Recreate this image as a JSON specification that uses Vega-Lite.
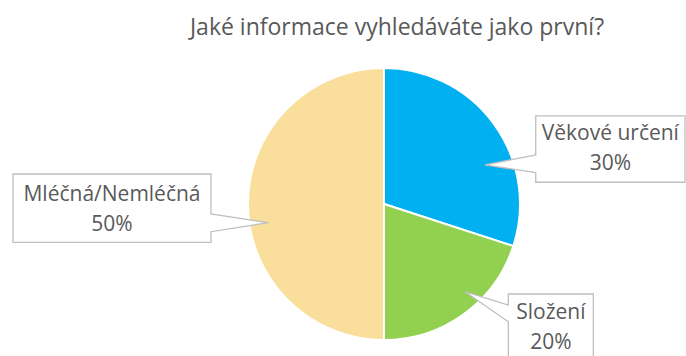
{
  "$schema": "https://vega.github.io/schema/vega-lite/v6.json",
  "autosize": {"type": "none"},
  "width": 604,
  "height": 304,
  "padding": {"left": 82, "top": 52, "right": 0, "bottom": 0},
  "background": "white",
  "title": {
    "text": "Jaké informace vyhledáváte jako první?",
    "font": "Open Sans",
    "fontSize": 23,
    "fontWeight": "normal",
    "color": "#595959",
    "anchor": "middle",
    "dx": 13,
    "dy": 23,
    "offset": 17,
    "baseline": "alphabetic"
  },
  "config": {"view": {"stroke": null}},
  "data": {
    "values": [
      {"kategorie": "Věkové určení", "hodnota": 30},
      {"kategorie": "Složení", "hodnota": 20},
      {"kategorie": "Mléčná/Nemléčná", "hodnota": 50}
    ]
  },
  "transform": [
    {"window": [{"op": "row_number", "as": "poradi"}]},
    {"joinaggregate": [{"op": "sum", "field": "hodnota", "as": "celkem"}]},
    {"window": [{"op": "sum", "field": "hodnota", "as": "kumulace"}], "sort": [{"field": "poradi"}], "frame": [null, 0]},
    {"calculate": "(datum.kumulace - datum.hodnota / 2) / datum.celkem * 2 * PI", "as": "uhel"},
    {"calculate": "0.9 * sin(datum.uhel)", "as": "ax"},
    {"calculate": "0.9 * cos(datum.uhel)", "as": "ay"},
    {"calculate": "datum.kategorie + '\\n' + datum.hodnota + '%'", "as": "popisek"}
  ],
  "layer": [
    {
      "mark": {"type": "arc", "outerRadius": 136, "stroke": "white", "strokeWidth": 2},
      "encoding": {
        "theta": {"field": "hodnota", "type": "quantitative", "stack": true},
        "order": {"field": "poradi", "type": "quantitative"},
        "color": {
          "field": "kategorie",
          "type": "nominal",
          "scale": {
            "domain": ["Věkové určení", "Složení", "Mléčná/Nemléčná"],
            "range": ["#00B0F0", "#92D050", "#F9DF9B"]
          },
          "legend": null
        }
      }
    },
    {
      "mark": {"type": "point", "filled": true, "fill": "white", "stroke": "#BFBFBF", "strokeWidth": 1.3, "opacity": 1, "fillOpacity": 1, "size": 4},
      "encoding": {
        "x": {"field": "ax", "type": "quantitative", "scale": {"domain": [-2.220588, 2.220588], "nice": false, "zero": false}, "axis": null},
        "y": {"field": "ay", "type": "quantitative", "scale": {"domain": [-1.117647, 1.117647], "nice": false, "zero": false}, "axis": null},
        "shape": {
          "field": "kategorie",
          "type": "nominal",
          "scale": {
            "domain": ["Věkové určení", "Složení", "Mléčná/Nemléčná"],
            "range": [
              "M52.7,-16.1 L202,-16.1 L202,50.2 L52.7,50.2 L52.7,40.6 L2,32.9 L52.7,22.9 Z",
              "M52.4,-9 L137.4,-9 L137.4,69 L52.4,69 L52.4,18.7 L9.1,-11.3 L52.4,2 Z",
              "M-248.6,-30 L-50.6,-30 L-50.6,10 L6.7,18.7 L-50.6,27.7 L-50.6,38.3 L-248.6,38.3 Z"
            ]
          },
          "legend": null
        }
      }
    },
    {
      "transform": [{"filter": "datum.kategorie == 'Věkové určení'"}],
      "mark": {"type": "text", "font": "Open Sans", "fontSize": 21, "color": "#595959", "align": "center", "baseline": "middle", "lineBreak": "\n", "lineHeight": 30, "dx": 127.3, "dy": 2.4},
      "encoding": {
        "x": {"field": "ax", "type": "quantitative"},
        "y": {"field": "ay", "type": "quantitative"},
        "text": {"field": "popisek", "type": "nominal"}
      }
    },
    {
      "transform": [{"filter": "datum.kategorie == 'Složení'"}],
      "mark": {"type": "text", "font": "Open Sans", "fontSize": 21, "color": "#595959", "align": "center", "baseline": "middle", "lineBreak": "\n", "lineHeight": 30, "dx": 94.9, "dy": 10},
      "encoding": {
        "x": {"field": "ax", "type": "quantitative"},
        "y": {"field": "ay", "type": "quantitative"},
        "text": {"field": "popisek", "type": "nominal"}
      }
    },
    {
      "transform": [{"filter": "datum.kategorie == 'Mléčná/Nemléčná'"}],
      "mark": {"type": "text", "font": "Open Sans", "fontSize": 21, "color": "#595959", "align": "center", "baseline": "middle", "lineBreak": "\n", "lineHeight": 30, "dx": -149.6, "dy": -9},
      "encoding": {
        "x": {"field": "ax", "type": "quantitative"},
        "y": {"field": "ay", "type": "quantitative"},
        "text": {"field": "popisek", "type": "nominal"}
      }
    }
  ]
}
